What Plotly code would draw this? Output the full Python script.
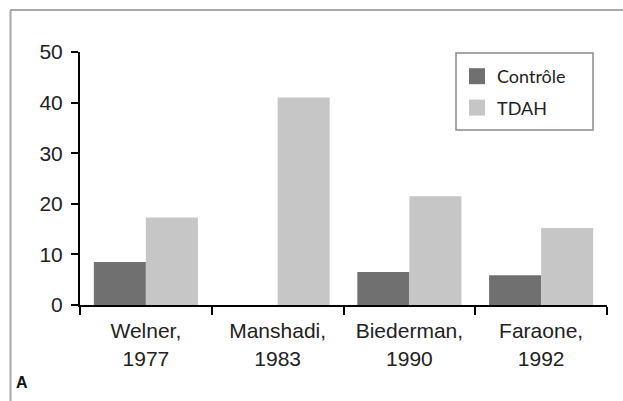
import plotly.graph_objects as go

categories = ["Welner,<br>1977", "Manshadi,<br>1983", "Biederman,<br>1990", "Faraone,<br>1992"]
series_names = ["Contrôle", "TDAH"]
controle = [8.5, 0, 6.5, 5.9]
tdah = [17.3, 41.0, 21.5, 15.2]
y_ticks = [0, 10, 20, 30, 40, 50]
colors = ["#707070", "#c6c6c6"]

W, H = 623, 401
L, R, T, B = 80, 16, 52, 96
pw, ph = W - L - R, H - T - B

def px_x(x):
    return (x - L) / pw

def px_y(y):
    return (H - B - y) / ph

fig = go.Figure()
for name, vals, col in zip(series_names, [controle, tdah], colors):
    fig.add_trace(go.Bar(x=categories, y=vals, name=name, showlegend=False,
                         marker=dict(color=col, line=dict(width=0))))
for i, (name, col) in enumerate(zip(series_names, colors)):
    fig.add_trace(go.Scatter(x=[None], y=[None], mode="markers", name=name,
                             legendgroup=f"g{i}",
                             marker=dict(symbol="square", size=17, color=col,
                                         line=dict(width=0))))

fig.update_layout(
    width=W, height=H,
    margin=dict(l=L, r=R, t=T, b=B),
    paper_bgcolor="white", plot_bgcolor="white",
    barmode="group", bargap=0.21, bargroupgap=0,
    font=dict(family="Arial, Liberation Sans, sans-serif", size=20, color="#222222"),
    showlegend=True,
    legend=dict(x=px_x(457), y=px_y(58), xanchor="left", yanchor="top",
                borderwidth=0, bgcolor="rgba(0,0,0,0)", traceorder="grouped",
                tracegroupgap=5, itemwidth=30,
                font=dict(family="Lato, Noto Sans, sans-serif", size=18, color="#222222")),
    xaxis=dict(type="category", tickson="boundaries", ticks="outside", ticklen=8,
               tickwidth=2, tickcolor="black", showline=True, linecolor="black",
               linewidth=2, showgrid=False, zeroline=False, ticklabelstandoff=6,
               tickfont=dict(family="Arial, Liberation Sans, sans-serif", size=21, color="#222222")),
    yaxis=dict(range=[0, 50], tickvals=y_ticks, ticks="outside", ticklen=7,
               tickwidth=2, tickcolor="black", showline=True, linecolor="black",
               linewidth=2, showgrid=False, zeroline=False, ticklabelstandoff=4,
               tickfont=dict(family="Arial, Liberation Sans, sans-serif", size=21, color="#222222")),
)

# legend frame
fig.add_shape(type="rect", xref="paper", yref="paper",
              x0=px_x(456), x1=px_x(593), y0=px_y(53), y1=px_y(130),
              line=dict(color="#8a8a8a", width=1.5), fillcolor="rgba(0,0,0,0)")

# outer frame lines (top and left)
fig.add_shape(type="line", xref="paper", yref="paper",
              x0=px_x(10), x1=px_x(660), y0=px_y(10), y1=px_y(10),
              line=dict(color="#a8a8a8", width=2))
fig.add_shape(type="line", xref="paper", yref="paper",
              x0=px_x(10.5), x1=px_x(10.5), y0=px_y(10), y1=px_y(440),
              line=dict(color="#a8a8a8", width=2))

fig.add_annotation(text="<b>A</b>", xref="paper", yref="paper",
                   x=px_x(22), y=px_y(382), xanchor="center", yanchor="middle",
                   showarrow=False,
                   font=dict(family="Arial, Liberation Sans, sans-serif", size=16, color="#111111"))

fig.write_html("out.html", config={"displayModeBar": False},
               post_script=("document.body.style.margin='0px';"
                            "document.body.style.overflow='hidden';"
                            "document.documentElement.style.overflow='hidden';"))
